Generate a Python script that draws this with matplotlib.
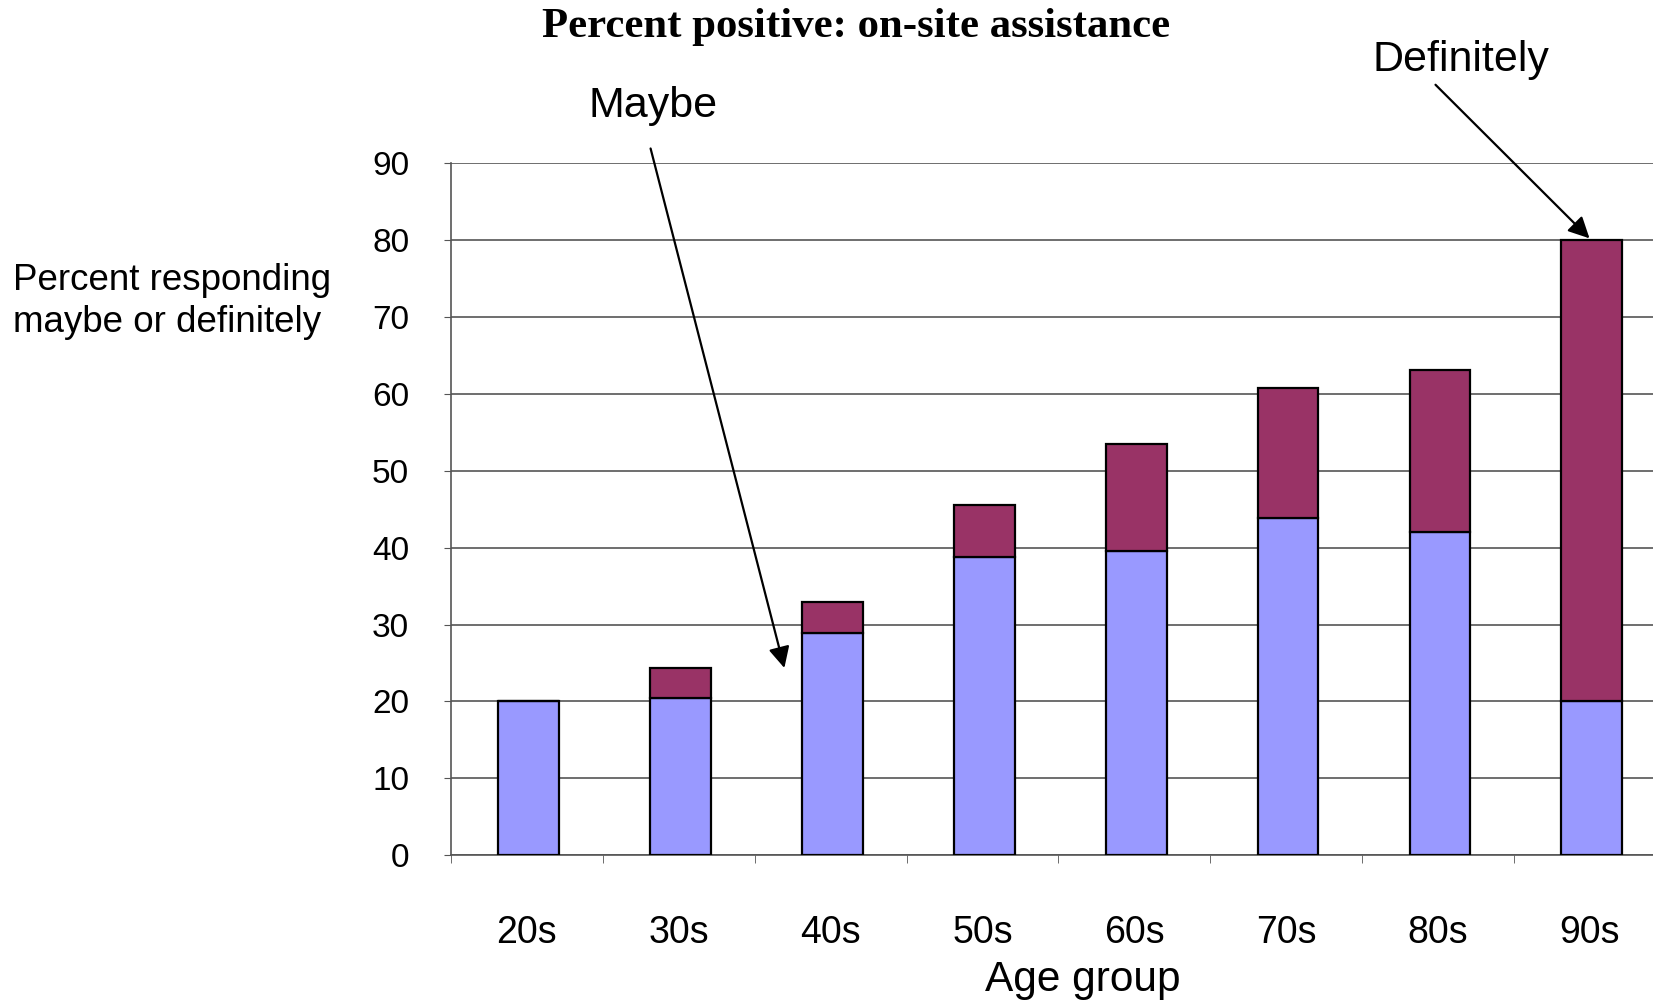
import numpy as np
import matplotlib.pyplot as plt

# data
age_groups = ["20s", "30s", "40s", "50s", "60s", "70s", "80s", "90s"]
maybe = [20.0, 20.4, 28.9, 38.8, 39.6, 43.9, 42.0, 20.0]
totals = [20.0, 24.3, 32.9, 45.5, 53.5, 60.8, 63.1, 80.0]
definitely = [t - m for t, m in zip(totals, maybe)]
y_ticks = [0, 10, 20, 30, 40, 50, 60, 70, 80, 90]

plt.rcParams['font.family'] = ['Liberation Sans', 'DejaVu Sans']

fig = plt.figure(figsize=(16.53, 10.06), dpi=100)
ax = fig.add_axes([0.2728, 0.150, 0.735, 0.6875])

x = np.arange(len(age_groups))
ax.bar(x + 0.012, maybe, width=0.40, color="#9999FF", edgecolor="black", linewidth=1.6, zorder=3)
ax.bar(x + 0.012, definitely, bottom=maybe, width=0.40, color="#993366", edgecolor="black",
       linewidth=1.6, zorder=3)

ax.set_xlim(-0.5, 7.5)
ax.set_ylim(0, 90)
ax.set_yticks(y_ticks)
ax.yaxis.grid(True, color="#555555", linewidth=1.2, zorder=0)

ax.set_xticks(x)
ax.set_xticklabels(age_groups, fontsize=27)
ax.set_xticks(np.arange(-0.5, 8.0, 1.0), minor=True)
ax.tick_params(axis="x", which="major", length=0, pad=43)
ax.tick_params(axis="x", which="minor", length=6, direction="out", color="#555555")
ax.tick_params(axis="y", length=5, direction="out", pad=25, labelsize=24, color="#555555")

for side in ["top", "right"]:
    ax.spines[side].set_visible(False)
ax.spines["left"].set_color("#555555")
ax.spines["left"].set_linewidth(1.2)
ax.spines["bottom"].set_color("#555555")
ax.spines["bottom"].set_linewidth(1.2)

ax.set_xlabel("Age group", fontsize=30.5, va="center")
ax.xaxis.set_label_coords(0.52, -0.181)

fig.text(0.008, 0.700, "Percent responding\nmaybe or definitely", fontsize=26.5,
         ha="left", va="center", linespacing=1.26)
fig.text(0.518, 0.973, "Percent positive: on-site assistance", fontsize=30.8,
         fontweight="bold", family="Liberation Serif", ha="center", va="center")

# callouts
ax.text(0.83, 97.5, "Maybe", fontsize=31, ha="center", va="center", clip_on=False)
ax.annotate("", xy=(1.70, 24.0), xytext=(0.81, 92.3), annotation_clip=False,
            arrowprops=dict(arrowstyle="-|>", mutation_scale=32, lw=1.6, color="black"))
ax.text(6.15, 103.5, "Definitely", fontsize=31, ha="center", va="center", clip_on=False)
ax.annotate("", xy=(7.01, 80.0), xytext=(5.97, 100.5), annotation_clip=False,
            arrowprops=dict(arrowstyle="-|>", mutation_scale=32, lw=1.6, color="black"))

fig.savefig("out.png", dpi=100)
